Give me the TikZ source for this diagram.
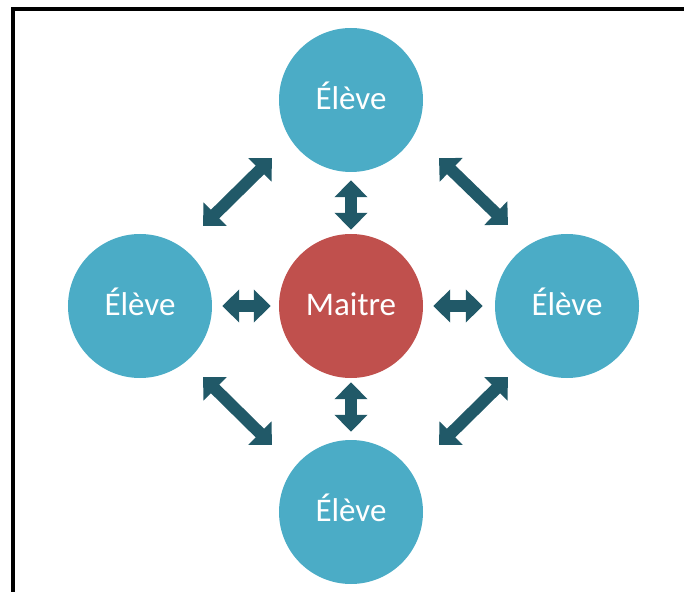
\documentclass[tikz,border=0pt]{standalone}
\usepackage{fontspec}
\setmainfont{Carlito}
\usepackage{tikz}
\usetikzlibrary{arrows.meta,positioning}

\definecolor{bleu}{HTML}{4BACC6}
\definecolor{rouge}{HTML}{C0504D}
\definecolor{sombre}{HTML}{215968}

\begin{document}
\begin{tikzpicture}[x=1pt,y=1pt,node distance=206pt,
    >={Triangle[width=32pt,length=17pt]},
    rond/.style={circle,minimum size=144pt,inner sep=0pt,text=white,
      font=\fontsize{33}{33}\selectfont,text height=23pt,text depth=4pt},
    eleve/.style={rond,fill=bleu},
    maitre/.style={rond,fill=rouge},
    fleche/.style={<->,line width=12pt,color=sombre}]
  \useasboundingbox (-351,-285) rectangle (333,306);
  \clip (-351,-285) rectangle (333,306);
  \draw[line width=4pt] (-337.5,-300) |- (340,296.5);

  \node[maitre]        (m){Maitre};
  \node[eleve]        (haut) [above of=m]  {Élève};
  \node[eleve]         (bas)[below of=m]{Élève};
  \node[eleve]	    (gauche) [left of=m,node distance=211pt]  {Élève};
  \node[eleve]	    (droite) [right of=m,node distance=216pt] {Élève};

  \path[fleche] (haut) edge [shorten <=8pt,shorten >=4pt] (m)
        (m) edge [shorten <=4pt,shorten >=8pt] (bas)
        (gauche) edge [shorten <=10pt,shorten >=8pt] (m)
        (m) edge [shorten <=10pt,shorten >=12pt] (droite);
  \draw[fleche] ([shift={(-79,-58)}]haut.center) -- ([shift={(63,80)}]gauche.center);
  \draw[fleche] ([shift={(88,-58)}]haut.center) -- ([shift={(-59,81)}]droite.center);
  \draw[fleche] ([shift={(63,-71)}]gauche.center) -- ([shift={(-79,67)}]bas.center);
  \draw[fleche] ([shift={(88,67)}]bas.center) -- ([shift={(-59,-71)}]droite.center);
\end{tikzpicture}
\end{document}
